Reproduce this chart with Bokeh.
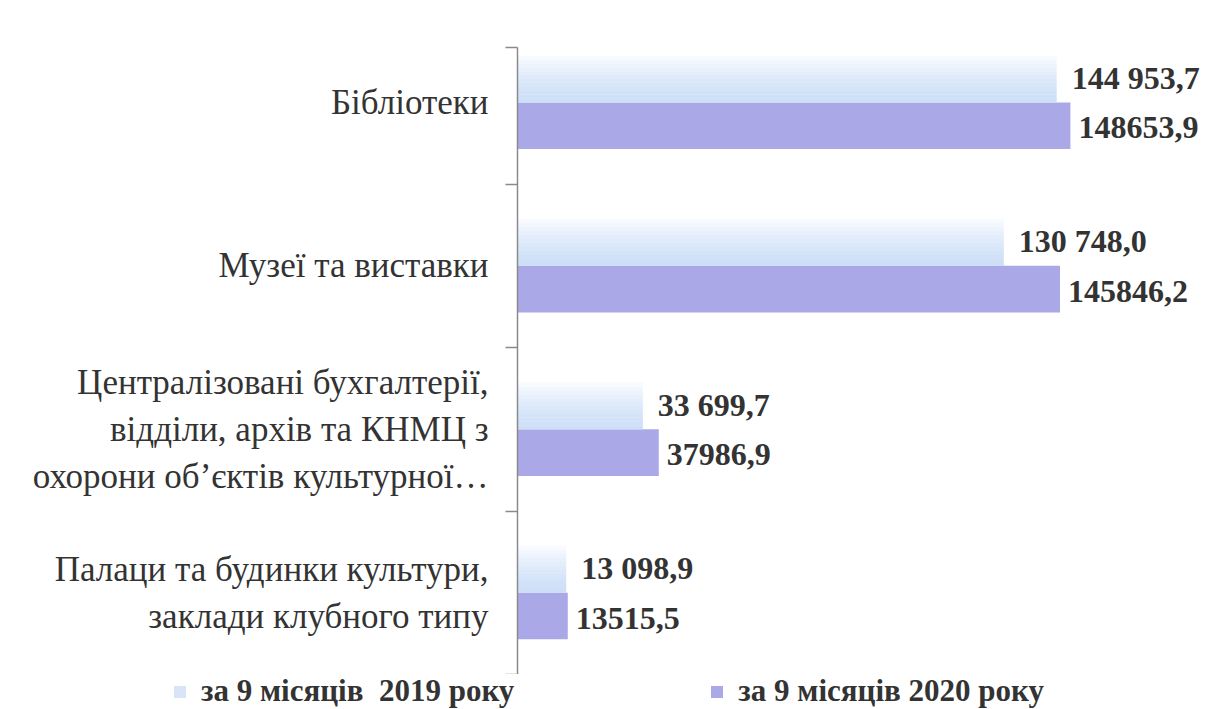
from bokeh.plotting import figure
from bokeh.layouts import column
from bokeh.models import ColumnDataSource, Range1d, FixedTicker, LabelSet, Legend, LegendItem
from bokeh.transform import dodge
from bokeh.embed import file_html
from bokeh.resources import INLINE

# ---- data ----
categories = [
    "Бібліотеки",
    "Музеї та виставки",
    "Централізовані бухгалтерії,\nвідділи, архів та КНМЦ з\nохорони об’єктів культурної…",
    "Палаци та будинки культури,\nзаклади клубного типу",
]
values_2019 = [144953.7, 130748.0, 33699.7, 13098.9]
values_2020 = [148653.9, 145846.2, 37986.9, 13515.5]
labels_2019 = ["144 953,7", "130 748,0", "33 699,7", "13 098,9"]
labels_2020 = ["148653,9", "145846,2", "37986,9", "13515,5"]
series_names = ["за 9 місяців  2019 року", "за 9 місяців 2020 року"]

n = len(categories)
pos = [n - 1 - i + 0.5 for i in range(n)]
Y_TOP = 3.836

src = ColumnDataSource(dict(pos=pos, v2019=values_2019, v2020=values_2020,
                            t2019=labels_2019, t2020=labels_2020))

SERIF = "Liberation Serif, Times New Roman, serif"
W = 1204

p = figure(width=W, height=674, output_backend="svg", toolbar_location=None,
           x_range=Range1d(0, 184700), y_range=Range1d(0, Y_TOP),
           min_border_left=517, min_border_right=0, min_border_top=47, min_border_bottom=0)
p.frame_align = False
p.outline_line_color = None
p.xgrid.visible = False
p.ygrid.visible = False
p.xaxis.visible = False
p.background_fill_color = "white"
p.border_fill_color = "white"

BAR_H = 0.285
C2020 = "#aaa8e7"

# 2020 bars
r2020 = p.hbar(y=dodge("pos", -BAR_H / 2, range=p.y_range), left=0, right="v2020", height=BAR_H,
               source=src, fill_color=C2020, line_color=None)

# 2019 bars as vertical gradient (pale top -> light blue bottom)
top_c = (250, 252, 255)
bot_c = (205, 223, 247)
NS = 12
for k in range(NS):
    f = (k + 0.5) / NS  # 0 = bottom, 1 = top
    c = tuple(int(round(bot_c[j] + (top_c[j] - bot_c[j]) * f ** 1.5)) for j in range(3))
    col = "#%02x%02x%02x" % c
    off = BAR_H * (k + 0.5) / NS
    p.hbar(y=dodge("pos", off, range=p.y_range), left=0, right="v2019", height=BAR_H / NS * 1.1,
           source=src, fill_color=col, line_color=None)

# y axis
ax = p.yaxis[0]
ax.ticker = FixedTicker(ticks=pos, minor_ticks=[0, 1, 2, 3, Y_TOP])
ax.major_label_overrides = {pv: c for pv, c in zip(pos, categories)}
ax.major_tick_line_color = None
ax.major_tick_out = 0
ax.major_tick_in = 0
ax.minor_tick_out = 12
ax.minor_tick_in = 0
ax.minor_tick_line_color = "#8a8a8a"
ax.minor_tick_line_width = 1.5
ax.axis_line_color = "#8a8a8a"
ax.axis_line_width = 1.5
ax.major_label_standoff = 17
ax.major_label_text_font = SERIF
ax.major_label_text_font_size = "35px"
ax.major_label_text_color = "#333333"

# value labels
lab_kw = dict(text_font=SERIF, text_font_style="bold", text_font_size="32px",
              text_color="#333333", text_baseline="middle", source=src)
p.add_layout(LabelSet(x="v2019", y=dodge("pos", 0.15, range=p.y_range), text="t2019",
                      x_offset=15, **lab_kw))
p.add_layout(LabelSet(x="v2020", y=dodge("pos", -0.155, range=p.y_range), text="t2020",
                      x_offset=8, **lab_kw))

# legend strip below the chart
pl = figure(width=W, height=35, output_backend="svg", toolbar_location=None,
            x_range=Range1d(0, 1), y_range=Range1d(100, 101),
            min_border_left=0, min_border_right=0, min_border_top=0, min_border_bottom=0)
pl.frame_align = False
pl.outline_line_color = None
pl.axis.visible = False
pl.grid.visible = False
pl.border_fill_color = "white"
lr2019 = pl.hbar(y="pos", left=0, right="v2019", height=0.5, source=src,
                 fill_color="#d9e5f7", line_color=None)
lr2020 = pl.hbar(y="pos", left=0, right="v2020", height=0.5, source=src,
                 fill_color=C2020, line_color=None)
legend = Legend(items=[LegendItem(label=series_names[0], renderers=[lr2019]),
                       LegendItem(label=series_names[1], renderers=[lr2020])],
                orientation="horizontal", location=(172, 0),
                label_text_font=SERIF, label_text_font_style="bold", label_text_font_size="31px",
                label_text_color="#333333", glyph_width=15, glyph_height=15, spacing=195,
                padding=0, margin=0, border_line_color=None, background_fill_alpha=0,
                label_standoff=14)
pl.add_layout(legend)

layout = column(p, pl, spacing=0)
open("out.html", "w").write(file_html(layout, INLINE))
